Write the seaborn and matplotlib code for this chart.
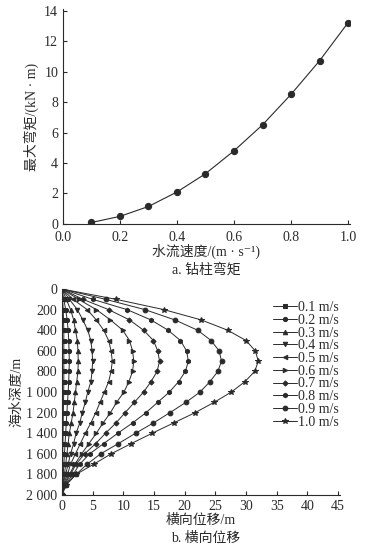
import matplotlib
matplotlib.use("Agg")
import matplotlib.pyplot as plt
import seaborn as sns
import pandas as pd
import numpy as np

sns.set_theme(style="ticks")
plt.rcParams['font.family'] = ['Liberation Serif', 'Noto Sans CJK SC', 'DejaVu Sans']
plt.rcParams['axes.unicode_minus'] = False

# ---- data: panel a ----
speeds = [0.1, 0.2, 0.3, 0.4, 0.5, 0.6, 0.7, 0.8, 0.9, 1.0]
max_moment = [0.1, 0.5, 1.15, 2.1, 3.3, 4.8, 6.5, 8.5, 10.7, 13.2]

# ---- data: panel b ----
depths = [0, 100, 200, 300, 400, 500, 600, 700, 800, 900, 1000,
          1100, 1200, 1300, 1400, 1500, 1600, 1700, 1800, 1900, 2000]
disp_01 = [0, 0.1, 0.2, 0.25, 0.3, 0.3, 0.3, 0.3, 0.3, 0.3, 0.28, 0.25, 0.22, 0.2, 0.18, 0.15, 0.12, 0.1, 0.08, 0.03, 0]
disp_02 = [0, 0.3, 0.6, 0.85, 1.0, 1.1, 1.15, 1.2, 1.15, 1.1, 1.0, 0.9, 0.8, 0.7, 0.6, 0.5, 0.4, 0.3, 0.2, 0.05, 0]
disp_03 = [0, 0.7, 1.4, 1.9, 2.2, 2.5, 2.6, 2.65, 2.6, 2.4, 2.2, 2.0, 1.8, 1.5, 1.2, 1.0, 0.8, 0.6, 0.4, 0.1, 0]
disp_04 = [0, 1.2, 2.5, 3.4, 4.2, 4.7, 4.9, 5.0, 4.9, 4.7, 4.2, 3.8, 3.3, 2.9, 2.3, 1.9, 1.4, 1.0, 0.6, 0.15, 0]
disp_05 = [0, 1.8, 4.1, 5.6, 6.8, 7.6, 8.0, 8.2, 8.0, 7.6, 6.9, 6.2, 5.5, 4.7, 3.8, 3.0, 2.2, 1.4, 0.9, 0.2, 0]
disp_06 = [0, 2.7, 5.6, 7.9, 9.9, 11.0, 11.5, 11.7, 11.5, 10.9, 10.1, 8.9, 7.9, 6.7, 5.6, 4.4, 3.2, 2.1, 1.2, 0.3, 0]
disp_07 = [0, 3.4, 7.6, 11.0, 13.3, 14.9, 15.6, 15.9, 15.5, 14.5, 13.3, 11.8, 10.3, 8.8, 7.1, 5.5, 3.7, 2.3, 1.4, 0.4, 0]
disp_08 = [0, 5.0, 10.6, 14.5, 17.3, 19.3, 20.3, 20.6, 20.1, 19.0, 17.5, 15.6, 13.7, 11.5, 9.1, 6.8, 4.5, 2.9, 1.8, 0.5, 0]
disp_09 = [0, 7.1, 13.5, 18.4, 22.1, 24.3, 25.6, 26.0, 25.4, 24.1, 22.5, 20.2, 17.6, 14.9, 12.0, 9.2, 6.3, 4.1, 2.3, 0.6, 0]
disp_10 = [0, 8.8, 16.6, 22.7, 27.0, 30.0, 31.5, 32.0, 31.4, 29.8, 27.6, 24.8, 21.7, 18.2, 14.7, 11.3, 8.0, 5.2, 2.3, 0.7, 0]
series_labels = ['0.1 m/s', '0.2 m/s', '0.3 m/s', '0.4 m/s', '0.5 m/s',
                 '0.6 m/s', '0.7 m/s', '0.8 m/s', '0.9 m/s', '1.0 m/s']
series = [disp_01, disp_02, disp_03, disp_04, disp_05,
          disp_06, disp_07, disp_08, disp_09, disp_10]
markers = ['s', 'o', '^', 'v', '<', '>', 'D', 'h', 'o', '*']
msizes = [2.8, 3.0, 3.2, 3.2, 3.2, 3.2, 2.6, 3.2, 3.4, 3.8]

ink = '#2a2a2a'
fig = plt.figure(figsize=(3.85, 5.45), dpi=100)

tick_kw = dict(direction='in', length=3, width=0.8, labelsize=10, colors=ink)

# ---- panel a ----
ax1 = fig.add_axes([0.1636, 0.589, 0.7455, 0.3945])
sns.lineplot(x=speeds, y=max_moment, marker='o', color=ink, markersize=4.5,
             markeredgecolor=ink, linewidth=0.8, ax=ax1)
ax1.set_xlim(0, 1.007)
ax1.set_ylim(0, 14.1)
ax1.set_xticks([0.0, 0.2, 0.4, 0.6, 0.8, 1.0])
ax1.set_xticklabels(['0.0', '0.2', '0.4', '0.6', '0.8', '1.0'])
ax1.set_yticks([0, 2, 4, 6, 8, 10, 12, 14])
ax1.tick_params(**tick_kw)
ax1.tick_params(axis='x', pad=5)
sns.despine(ax=ax1)
for s in ['left', 'bottom']:
    ax1.spines[s].set_color(ink)
    ax1.spines[s].set_linewidth(0.8)
ax1.set_xlabel('水流速度/(m · s⁻¹)', fontsize=10, color=ink, labelpad=0)
ax1.set_ylabel('最大弯矩/(kN · m)', fontsize=10, color=ink, labelpad=4)
fig.text(0.535, 1 - 270 / 545, 'a. 钻柱弯矩', ha='center', va='center', fontsize=10, color=ink)

# ---- panel b ----
ax2 = fig.add_axes([0.161, 0.0917, 0.722, 0.378])
for lab, vals, mk, ms in zip(series_labels, series, markers, msizes):
    sns.lineplot(x=vals, y=depths, orient='y', marker=mk, color=ink,
                 markersize=ms, markeredgecolor=ink, linewidth=0.7,
                 label=lab, ax=ax2)
ax2.set_xlim(0, 45.3)
ax2.set_ylim(2000, 0)
ax2.set_xticks(list(range(0, 50, 5)))
ax2.set_yticks([0, 200, 400, 600, 800, 1000, 1200, 1400, 1600, 1800, 2000])
ax2.set_yticklabels(['0', '200', '400', '600', '800', '1 000', '1 200',
                     '1 400', '1 600', '1 800', '2 000'])
ax2.tick_params(**tick_kw)
sns.despine(ax=ax2)
for s in ['left', 'bottom']:
    ax2.spines[s].set_color(ink)
    ax2.spines[s].set_linewidth(0.8)
ax2.set_xlabel('横向位移/m', fontsize=10, color=ink, labelpad=1)
ax2.set_ylabel('海水深度/m', fontsize=10, color=ink, labelpad=2)
leg = ax2.legend(loc='upper left', bbox_to_anchor=(0.74, 0.968), frameon=False,
                 fontsize=10, handlelength=1.7, handletextpad=0.1,
                 labelspacing=-0.02, borderaxespad=0)
for t in leg.get_texts():
    t.set_color(ink)
fig.text(0.535, 1 - 538 / 545, 'b. 横向位移', ha='center', va='center', fontsize=10, color=ink)

fig.savefig('out.png', dpi=100)
